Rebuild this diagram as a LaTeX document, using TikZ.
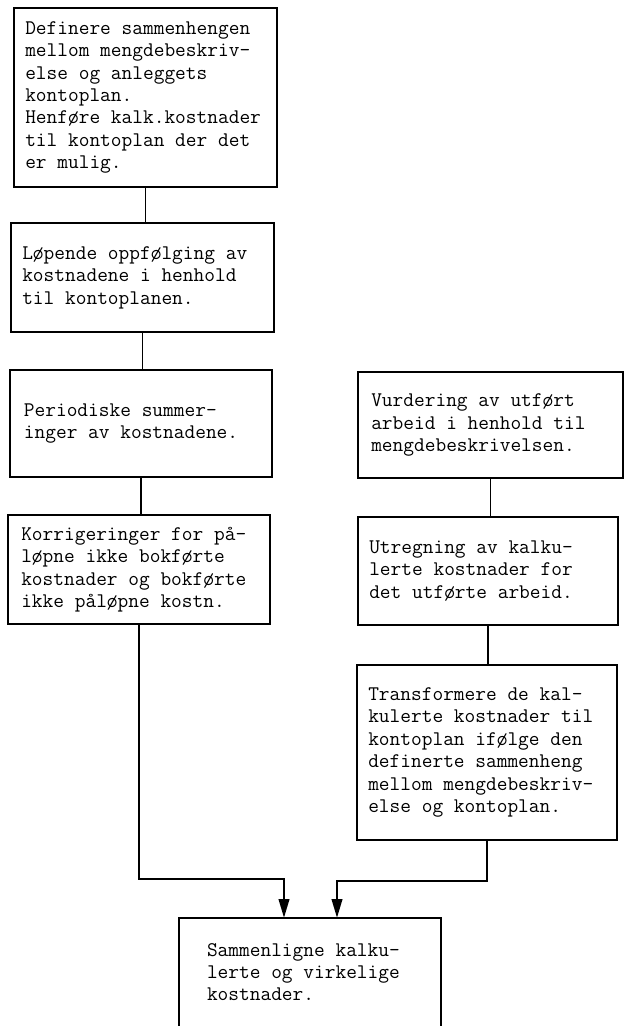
\documentclass[tikz,border=0pt]{standalone}
\usepackage{fontspec}
\usetikzlibrary{arrows.meta}
\begin{document}
\begin{tikzpicture}[x=0.75pt,y=-0.75pt,
  box/.style={draw=black, line width=1.5pt, inner sep=0pt, minimum width=#1},
  txt/.style={inner sep=0pt, align=left, anchor=west, font=\ttfamily\fontsize{15.6pt}{16.8pt}\selectfont},
  link/.style={line width=1.4pt},
  arr/.style={line width=1.4pt, -{Triangle[length=14pt,width=8pt]}}]
\useasboundingbox (0,0) rectangle (627,1026);
% left column
\node[box=197.25pt, minimum height=134.25pt] (b1) at (145.5,97.5) {};
\node[txt] (t1) at ([xshift=9pt]b1.west) {Definere sammenhengen\\mellom mengdebeskriv-\\else og anleggets\\kontoplan.\\Henføre kalk.kostnader\\til kontoplan der det\\er mulig.};
\node[box=197.25pt, minimum height=81.75pt] (b2) at (142.5,277.5) {};
\node[txt] (t2) at ([xshift=9pt]b2.west) {Løpende oppfølging av\\kostnadene i henhold\\til kontoplanen.};
\node[box=196.5pt, minimum height=80.25pt] (b3) at (141,423.5) {};
\node[txt] (t3) at ([xshift=11pt]b3.west) {Periodiske summer-\\inger av kostnadene.};
\node[box=196.5pt, minimum height=81.75pt] (b4) at (139,569.5) {};
\node[txt] (t4) at ([xshift=10.5pt]b4.west) {Korrigeringer for på-\\løpne ikke bokførte\\kostnader og bokførte\\ikke påløpne kostn.};
% right column
\node[box=198.75pt, minimum height=79.5pt] (r1) at (490.5,425) {};
\node[txt] (u1) at ([xshift=10.5pt]r1.west) {Vurdering av utført\\arbeid i henhold til\\mengdebeskrivelsen.};
\node[box=195pt, minimum height=81pt] (r2) at (488,571) {};
\node[txt] (u2) at ([xshift=9pt]r2.west) {Utregning av kalku-\\lerte kostnader for\\det utførte arbeid.};
\node[box=195pt, minimum height=131.25pt] (r3) at (487,752.5) {};
\node[txt] (u3) at ([xshift=9pt]r3.west) {Transformere de kal-\\kulerte kostnader til\\kontoplan ifølge den\\definerte sammenheng\\mellom mengdebeskriv-\\else og kontoplan.};
% bottom box (cut by the page edge)
\node[inner sep=0pt, minimum width=196.5pt, minimum height=81pt] (bb) at (310,972) {};
\draw[line width=1.5pt] (bb.south west) -- (bb.north west) -- (bb.north east) -- (bb.south east);
\node[txt] (tb) at ([xshift=21pt]bb.west) {Sammenligne kalku-\\lerte og virkelige\\kostnader.};
% connectors
\draw[link] (b1.south) -- (b1.south |- b2.north);
\draw[link] (b2.south) -- (b2.south |- b3.north);
\draw[link] (b3.south) -- (b3.south |- b4.north);
\draw[link] (r1.south) -- (r1.south |- r2.north);
\draw[link] (r2.south) -- (r2.south |- r3.north);
\coordinate (jl) at (284,879);
\coordinate (jr) at (337,881);
\draw[arr] (b4.south) |- (jl) -- (jl |- bb.north);
\draw[arr] (r3.south) |- (jr) -- (jr |- bb.north);
\end{tikzpicture}
\end{document}
